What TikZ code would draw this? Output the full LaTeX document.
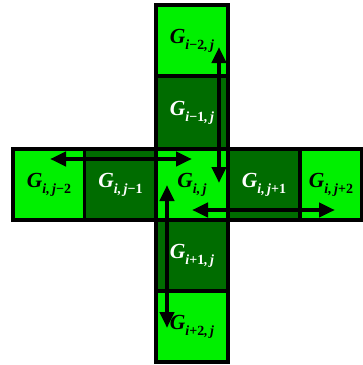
\documentclass[tikz,border=0pt]{standalone}
\usepackage{fontspec}
\setmainfont{Liberation Serif}
\usetikzlibrary{arrows.meta}
\definecolor{lightg}{RGB}{0,240,0}
\definecolor{darkg}{RGB}{0,108,0}
\newcommand\Gcell[1]{{\fontsize{21.5}{21.5}\selectfont\bfseries\itshape G\raisebox{-0.28em}{\fontsize{14}{14}\selectfont #1}}}
\begin{document}
\begin{tikzpicture}[x=1pt,y=-1pt,
  cell/.style={draw=black,line width=3.2pt,minimum width=72pt,minimum height=71pt,inner sep=0pt,outer sep=0pt},
  lt/.style={cell,fill=lightg,text=black},
  dk/.style={cell,fill=darkg,text=white},
  arr/.style={{Triangle[length=16pt,width=14pt]}-{Triangle[length=16pt,width=14pt]},line width=4pt,draw=black}]
\useasboundingbox (0,0) rectangle (363,365);
% row
\node[lt] (m2) at (49,184.5) {\Gcell{i,\,j\textup{−2}}};
\node[dk] (m1) at (120.5,184.5) {\Gcell{i,\,j\textup{−1}}};
\node[dk] (p1) at (264,184.5) {\Gcell{i,\,j\textup{+1}}};
\node[lt,minimum width=62pt] (p2) at (331,184.5) {\Gcell{i,\,j\textup{+2}}};
% column
\node[lt] (u2) at (192,40.5) {\Gcell{i\textup{−2},\,j}};
\node[dk,minimum height=73pt] (u1) at (192,112.5) {\Gcell{i\textup{−1},\,j}};
\node[dk] (d1) at (192,255.5) {\Gcell{i\textup{+1},\,j}};
\node[lt] (d2) at (192,326.5) {\Gcell{i\textup{+2},\,j}};
\node[lt] (c) at (192,184.5) {\Gcell{i,\,j}};
% arrow end points
\coordinate (a1) at (219,47);
\coordinate (b1) at (219,183);
\coordinate (a2) at (50,159);
\coordinate (b2) at (192,159);
\coordinate (a3) at (192,210);
\coordinate (b3) at (335,210);
\coordinate (a4) at (167,185);
\coordinate (b4) at (167,328);
\draw[arr] (a1) -- (b1);
\draw[arr] (a2) -- (b2);
\draw[arr] (a3) -- (b3);
\draw[arr] (a4) -- (b4);
\end{tikzpicture}
\end{document}
